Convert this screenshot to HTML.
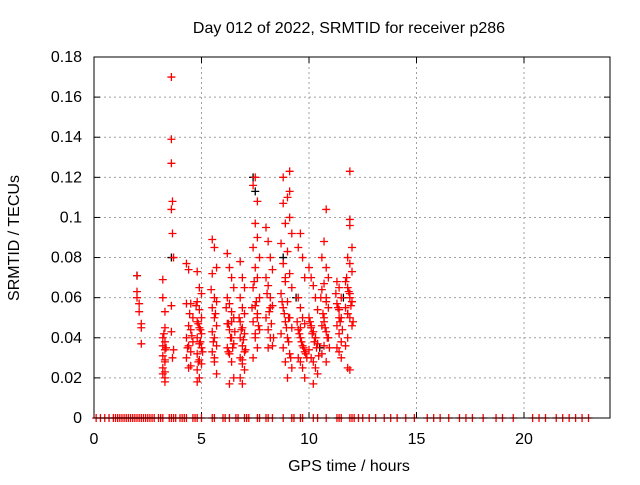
<!DOCTYPE html>
<html><head><meta charset="utf-8"><style>
body{margin:0;background:#fff}
svg{font-family:"Liberation Sans",sans-serif;font-size:16px}
</style></head><body>
<svg id="chart" width="640" height="480" viewBox="0 0 640 480">
<rect width="640" height="480" fill="#fff"/>
<text x="349" y="33" text-anchor="middle">Day 012 of 2022, SRMTID for receiver p286</text>
<text x="349" y="471" text-anchor="middle">GPS time / hours</text>
<text transform="translate(19,238) rotate(-90)" text-anchor="middle">SRMTID / TECUs</text>
<g id="grid"></g><g id="ticks"></g><g id="marks"></g>
<rect x="94" y="57" width="516" height="361" fill="none" stroke="#000" stroke-width="1"/>
</svg>
<script>
const xTicks=[0,5,10,15,20];
const yTicks=[0,0.02,0.04,0.06,0.08,0.1,0.12,0.14,0.16,0.18];
const yTickLabels=["0","0.02","0.04","0.06","0.08","0.1","0.12","0.14","0.16","0.18"];
const redT=[2.0,2.0,2.1,2.1,2.2,2.2,2.2,2.0,
3.2,3.2,3.3,3.3,3.2,3.3,3.2,3.3,3.2,3.3,3.2,3.3,3.2,3.3,3.3,
3.6,3.6,3.6,3.65,3.6,3.65,3.7,3.6,3.6,3.7,3.65,
4.3,4.4,4.5,4.3,4.6,4.4,4.5,4.3,4.6,4.4,4.5,4.3,4.5,4.4,
4.8,4.9,5.0,4.8,4.9,5.0,4.8,4.9,5.0,4.8,4.9,5.0,4.8,4.9,5.0,4.8,4.9,4.8,
5.5,5.6,5.7,5.5,5.6,5.7,5.5,5.6,5.7,5.5,5.6,5.7,5.5,5.6,5.7,
6.2,6.3,6.4,6.5,6.2,6.3,6.4,6.5,6.2,6.3,6.4,6.5,6.2,6.3,6.4,6.5,6.3,
6.8,6.9,7.0,6.8,6.9,7.0,6.8,6.9,7.0,6.8,6.9,7.0,6.8,6.9,7.0,6.8,6.9,
7.5,7.4,7.6,7.5,7.6,7.4,7.7,7.5,7.6,7.4,7.7,7.5,7.6,7.4,7.7,7.5,7.6,7.4,
8.0,8.1,8.2,8.3,8.0,8.1,8.2,8.3,8.0,8.1,8.2,8.3,8.1,
9.1,8.8,9.1,9.0,8.8,9.1,8.9,9.2,8.7,9.0,8.8,9.1,8.9,9.2,8.7,9.0,8.8,9.1,8.9,9.2,8.7,9.0,8.8,9.1,8.9,9.2,9.0,
9.6,9.5,9.7,9.8,9.5,9.6,9.7,9.8,9.5,9.6,9.7,9.8,9.5,9.6,9.7,9.8,
10.0,10.1,10.2,10.3,10.4,10.0,10.1,10.2,10.3,10.4,10.0,10.1,10.2,10.3,10.4,10.2,
10.8,10.7,10.6,10.8,10.9,10.7,10.6,10.8,10.9,10.7,10.6,10.8,10.9,10.7,10.6,10.8,
11.3,11.4,11.5,11.3,11.4,11.5,11.3,11.4,11.5,11.3,11.4,11.5,
11.9,11.9,11.9,12.0,11.8,11.9,12.0,11.7,11.8,11.9,12.0,11.7,11.8,11.9,12.0,11.8,11.7,11.8,11.9];
const redV=[.071,.063,.057,.053,.047,.045,.037,.06,
.069,.06,.053,.045,.04,.038,.036,.034,.031,.028,.025,.023,.022,.02,.018,
.170,.139,.127,.108,.104,.092,.08,.056,.043,.034,.03,
.077,.074,.057,.057,.05,.046,.044,.04,.038,.036,.033,.03,.026,.025,
.073,.065,.062,.058,.054,.05,.048,.045,.042,.04,.037,.035,.032,.029,.027,.024,.02,.018,
.089,.085,.075,.072,.06,.058,.055,.05,.046,.043,.04,.036,.033,.028,.022,
.082,.075,.07,.065,.06,.057,.053,.05,.047,.044,.04,.037,.035,.032,.028,.02,.017,
.078,.07,.065,.06,.055,.052,.048,.045,.042,.04,.036,.033,.03,.027,.024,.02,.017,
.12,.116,.108,.097,.09,.085,.08,.075,.07,.065,.06,.056,.052,.048,.044,.04,.035,.03,
.095,.088,.08,.074,.07,.066,.06,.056,.05,.044,.04,.036,.035,
.123,.12,.113,.11,.107,.1,.097,.092,.087,.083,.077,.072,.07,.065,.062,.058,.055,.05,.048,.045,.042,.04,.035,.032,.028,.025,.02,
.092,.085,.08,.07,.06,.055,.05,.047,.044,.04,.036,.033,.03,.028,.025,.02,
.075,.07,.066,.06,.054,.05,.046,.043,.04,.037,.034,.03,.028,.025,.022,.017,
.104,.088,.08,.075,.07,.067,.064,.06,.055,.05,.046,.043,.04,.036,.032,.028,
.068,.065,.06,.057,.054,.05,.046,.042,.038,.035,.033,.03,
.123,.099,.096,.085,.08,.077,.073,.068,.065,.062,.058,.055,.052,.05,.046,.04,.036,.025,.024];
const red2T=[3.25,3.35,3.3,4.45,4.55,4.35,4.75,4.85,4.95,5.05,4.85,4.95,5.45,5.65,5.55,5.6,6.15,6.25,6.35,6.45,6.55,6.25,6.4,6.75,6.85,6.95,7.05,6.9,7.45,7.55,7.65,7.35,7.5,7.6,8.05,8.15,8.25,8.35,8.2,8.75,8.85,8.95,9.05,9.15,8.9,9.05,9.45,9.55,9.65,9.75,9.85,9.6,9.9,10.05,10.15,10.25,10.35,10.45,10.1,10.3,10.55,10.65,10.75,10.85,10.95,10.7,10.8,11.25,11.35,11.45,11.55,11.4,11.75,11.85,11.95,12.05,11.8,11.9];
const red2V=[.042,.035,.029,.052,.041,.035,.056,.047,.038,.033,.028,.044,.064,.052,.038,.03,.055,.047,.04,.035,.043,.033,.048,.05,.044,.039,.034,.029,.068,.058,.046,.055,.042,.05,.062,.053,.047,.04,.055,.058,.052,.045,.038,.03,.068,.05,.048,.042,.038,.035,.032,.045,.03,.048,.042,.038,.035,.031,.045,.04,.06,.052,.045,.04,.035,.048,.058,.062,.055,.048,.044,.05,.07,.063,.056,.048,.052,.06];
const blackT=[2.0,3.6,7.4,7.5,8.8,11.6,10.5,9.4];
const blackV=[.071,.08,.12,.113,.08,.06,.035,.06];
const zeroT=[0.1,0.3,0.5,0.7,0.9,1.0,1.1,1.2,1.3,1.4,1.5,1.6,1.7,1.8,1.9,2.0,2.1,2.2,2.3,2.4,2.5,2.6,2.7,2.8,3.0,3.1,3.2,3.5,3.6,3.7,3.8,4.0,4.1,4.2,4.3,4.6,4.7,4.8,5.0,5.5,5.6,6.0,6.1,6.3,6.6,6.7,7.0,7.1,7.2,7.6,7.7,8.0,8.1,8.3,8.8,9.2,9.3,9.6,9.7,10.2,10.4,10.8,11.3,11.4,11.5,11.9,12.0,12.1,12.3,12.5,12.8,13.1,13.5,13.8,14.1,14.5,14.9,15.5,15.8,16.1,16.5,17.0,17.3,17.6,18.1,18.7,19.0,19.5,20.4,20.7,21.0,21.5,21.8,22.1,22.4,22.7,23.0];
const X=t=>94+t*(516/24), Y=v=>418-v*(361/0.18);
const NS="http://www.w3.org/2000/svg";
function mk(tag,attrs,parent){const e=document.createElementNS(NS,tag);for(const k in attrs)e.setAttribute(k,attrs[k]);parent.appendChild(e);return e;}
const grid=document.getElementById('grid'),ticks=document.getElementById('ticks'),marks=document.getElementById('marks');
xTicks.forEach(t=>{const x=X(t);
 if(t>0){const g=mk('line',{x1:x,x2:x,y1:57,y2:418,stroke:'#a0a0a0','stroke-dasharray':'2,3'},grid);
 
 }
 mk('line',{x1:x,x2:x,y1:418,y2:412,stroke:'#000'},ticks);mk('line',{x1:x,x2:x,y1:57,y2:63,stroke:'#000'},ticks);
 const l=mk('text',{x:x,y:444,'text-anchor':'middle'},ticks);l.textContent=t;
 
 });
yTicks.forEach((v,i)=>{const y=Y(v);
 if(i>0&&i<yTicks.length-1){const g=mk('line',{x1:94,x2:610,y1:y,y2:y,stroke:'#a0a0a0','stroke-dasharray':'2,3'},grid);
 
 }
 mk('line',{x1:94,x2:100,y1:y,y2:y,stroke:'#000'},ticks);mk('line',{x1:604,x2:610,y1:y,y2:y,stroke:'#000'},ticks);
 const l=mk('text',{x:82,y:y+5,'text-anchor':'end'},ticks);l.textContent=yTickLabels[i];
 
 });
function plus(t,v,c){const x=X(t),y=Y(v);
 const p=mk('path',{d:`M${x-4},${y}h8M${x},${y-4}v8`,stroke:c,'stroke-width':1.3,fill:'none'},marks);
 
 }
blackT.forEach((t,i)=>plus(t,blackV[i],'#000'));
redT.forEach((t,i)=>plus(t,redV[i],'#f00'));
red2T.forEach((t,i)=>plus(t,red2V[i],'#f00'));
zeroT.forEach(t=>plus(t,0,'#f00'));
</script>
</body></html>
